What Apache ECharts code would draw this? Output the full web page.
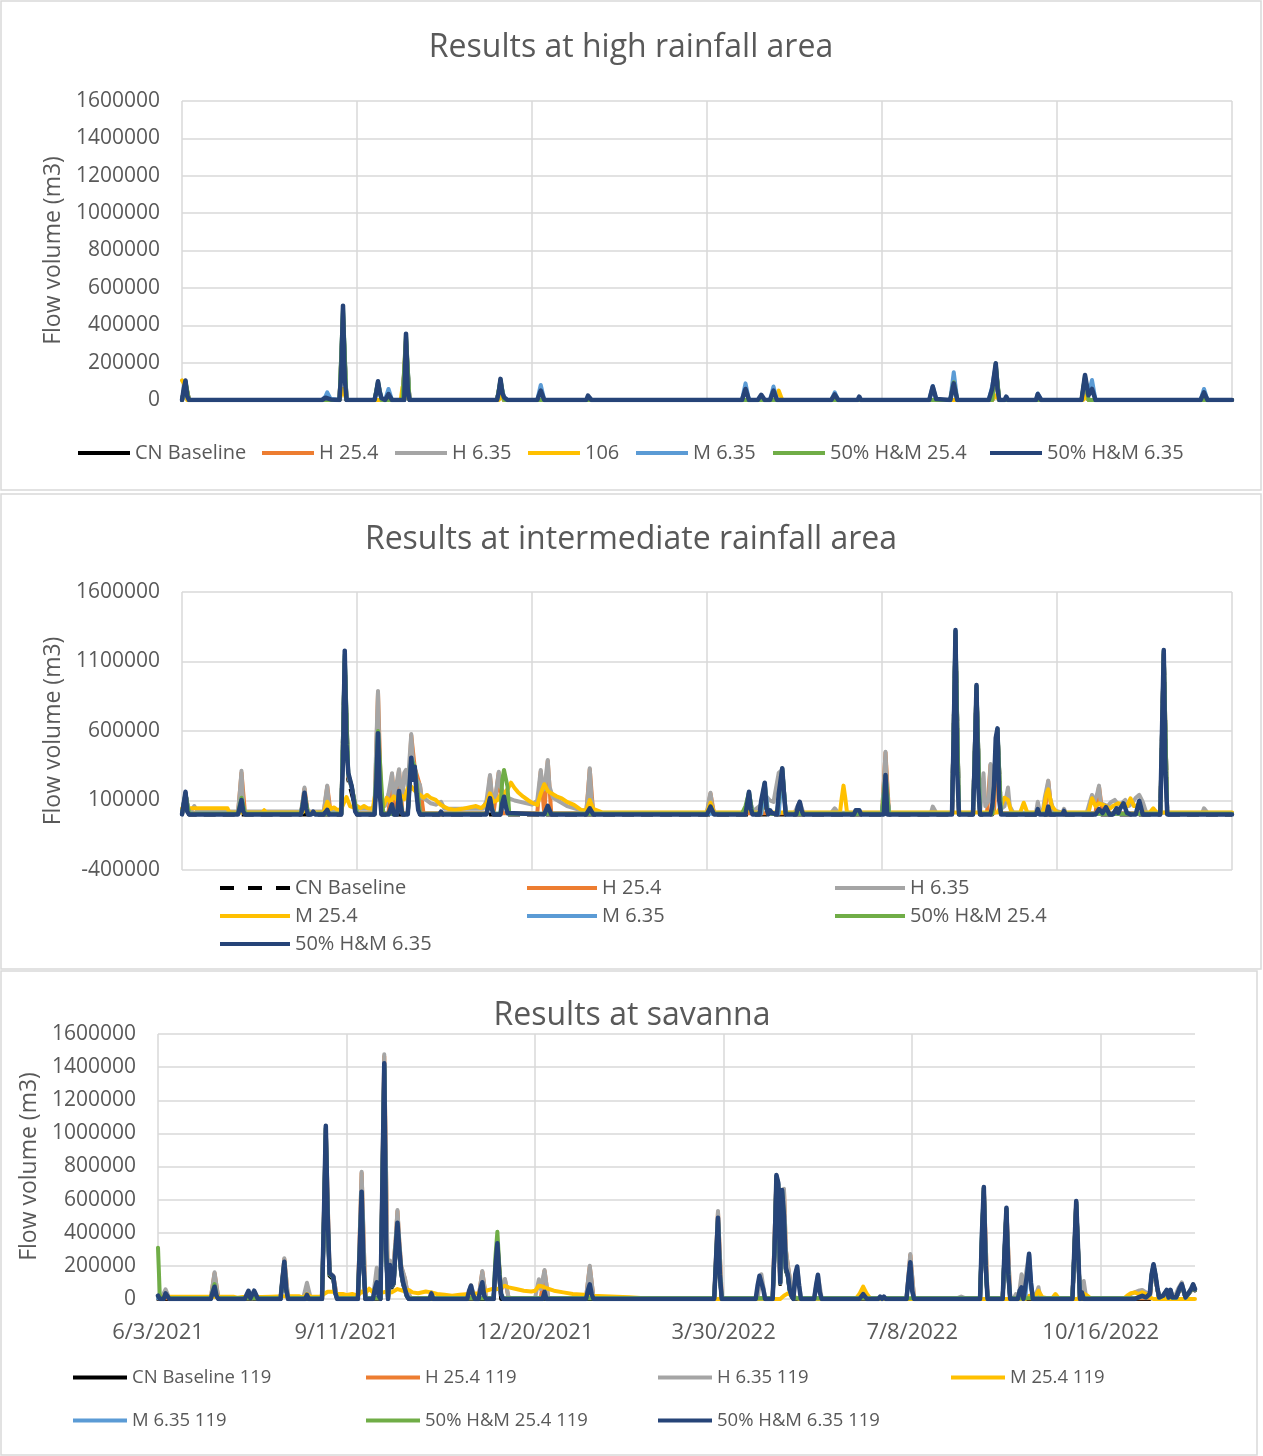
<!DOCTYPE html>
<html>
<head>
<meta charset="utf-8">
<title>Flow volume results</title>
<script src="https://cdn.jsdelivr.net/npm/echarts@6/dist/echarts.min.js"></script>
<style>
  html, body { margin: 0; padding: 0; background: #ffffff; }
  #wrap { position: relative; width: 1263px; height: 1456px; }
  .panel { position: absolute; left: 0; width: 1263px; }
</style>
</head>
<body>
<div id="wrap">
  <div id="p1" class="panel" style="top:0px;height:492px"></div>
  <div id="p2" class="panel" style="top:492px;height:478px"></div>
  <div id="p3" class="panel" style="top:970px;height:486px"></div>
</div>
<script>
// ---- Series names and colours -------------------------------------------
const highNames = ['CN Baseline', 'H 25.4', 'H 6.35', '106', 'M 6.35', '50% H&M 25.4', '50% H&M 6.35'];
const midNames = ['CN Baseline', 'H 25.4', 'H 6.35', 'M 25.4', 'M 6.35', '50% H&M 25.4', '50% H&M 6.35'];
const savNames = ['CN Baseline 119', 'H 25.4 119', 'H 6.35 119', 'M 25.4 119', 'M 6.35 119', '50% H&M 25.4 119', '50% H&M 6.35 119'];
const seriesColors = ['#000000', '#ED7D31', '#A5A5A5', '#FFC000', '#5B9BD5', '#70AD47', '#264478'];

// ---- Titles and tick labels ---------------------------------------------
const panelTitles = ['Results at high rainfall area', 'Results at intermediate rainfall area', 'Results at savanna'];
const axisTitle = 'Flow volume (m3)';
const savDateTicks = ['6/3/2021', '9/11/2021', '12/20/2021', '3/30/2022', '7/8/2022', '10/16/2022'];

// ---- High rainfall area: [day, flow volume m3] ---------------------------
const highCn = [[0,0],[2,85000],[4,0],[90,0],[92,430000],[94,0],[126,0],[128,300000],[130,0],[180,0],[182,90000],[184,0],[463,0],[465,160000],[467,0],[514,0],[516,100000],[518,0],[600,0]];
const highH254 = [[0,0],[2,90000],[4,0],[90,0],[92,450000],[94,0],[126,0],[128,320000],[130,0],[180,0],[182,95000],[184,0],[463,0],[465,170000],[467,0],[514,0],[516,110000],[518,0],[600,0]];
const highH635 = [[0,0],[2,95000],[4,0],[90,0],[92,470000],[94,0],[110,0],[112,90000],[114,0],[126,0],[128,330000],[130,0],[180,0],[182,100000],[184,0],[439,0],[441,80000],[443,0],[463,0],[465,180000],[467,0],[514,0],[516,120000],[518,0],[600,0]];
const high106 = [[0,105000],[1,90000],[3,0],[90,0],[92,60000],[94,0],[125,0],[126,70000],[127,40000],[128,20000],[130,0],[181,0],[182,25000],[184,0],[339,0],[341,50000],[343,0],[463,0],[465,25000],[467,0],[515,0],[516,20000],[518,0],[600,0]];
const highM635 = [[0,0],[1,50000],[2,95000],[3,15000],[4,0],[80,0],[82,20000],[83,41000],[85,5000],[90,0],[92,480000],[94,0],[110,0],[112,95000],[114,10000],[116,0],[118,59000],[120,0],[127,0],[128,340000],[130,0],[180,0],[182,105000],[184,10000],[186,0],[203,0],[205,80000],[207,0],[320,0],[322,89000],[324,0],[336,0],[338,72000],[340,0],[371,0],[373,41000],[375,0],[427,0],[429,75000],[431,0],[439,0],[441,149000],[443,0],[461,0],[463,75000],[465,185000],[467,0],[488,0],[489,35000],[491,0],[514,0],[516,120000],[518,30000],[520,107000],[522,0],[582,0],[584,59000],[586,0],[600,0]];
const highHm254 = [[0,0],[2,100000],[4,0],[90,0],[92,495000],[94,0],[110,0],[112,98000],[114,0],[126,0],[128,350000],[130,0],[180,0],[182,110000],[184,0],[439,0],[441,95000],[443,0],[463,0],[465,195000],[467,0],[514,0],[516,130000],[518,0],[600,0]];
const highHm635 = [[0,0],[1,60000],[2,104000],[3,20000],[4,0],[32,0],[33,8000],[34,0],[80,0],[82,12000],[83,18000],[85,3000],[90,0],[91,150000],[92,505000],[93,120000],[94,0],[100,0],[101,5000],[102,0],[110,0],[111,40000],[112,100000],[113,40000],[114,10000],[116,0],[117,15000],[118,32000],[120,0],[127,0],[128,355000],[129,60000],[130,0],[180,0],[181,40000],[182,113000],[183,40000],[184,15000],[186,0],[203,0],[205,50000],[207,0],[231,0],[232,23000],[234,0],[320,0],[322,59000],[324,0],[329,0],[331,28000],[333,0],[336,0],[338,50000],[340,0],[371,0],[373,30000],[375,0],[386,0],[387,18000],[388,0],[427,0],[429,72000],[431,5000],[432,0],[439,0],[441,89000],[443,0],[452,0],[453,8000],[454,0],[461,0],[463,60000],[465,197000],[466,60000],[467,0],[470,0],[471,18000],[472,0],[488,0],[489,32000],[491,0],[514,0],[516,134000],[518,25000],[520,59000],[522,0],[582,0],[584,41000],[586,0],[600,0]];

// ---- Intermediate rainfall area: [day, flow volume m3] -------------------
const midCn = [[0,0],[2,150000],[4,0],[91,0],[93,1100000],[95,250000],[97,150000],[100,0],[110,0],[112,550000],[114,0],[129,0],[131,380000],[133,300000],[136,0],[400,0],[402,260000],[404,0],[440,0],[442,1280000],[444,0],[452,0],[454,900000],[456,0],[463,0],[466,590000],[468,0],[559,0],[561,1150000],[563,0],[600,0]];
const midH254 = [[0,8000],[2,145000],[4,8000],[32,8000],[34,300000],[36,8000],[68,8000],[70,185000],[72,8000],[81,8000],[83,200000],[85,8000],[91,8000],[93,1100000],[95,270000],[97,190000],[100,8000],[110,8000],[112,880000],[114,8000],[118,8000],[120,290000],[122,8000],[124,318000],[126,8000],[129,8000],[131,570000],[133,335000],[136,205000],[138,8000],[174,8000],[176,275000],[178,8000],[181,300000],[183,8000],[203,8000],[205,310000],[207,8000],[209,385000],[211,8000],[231,8000],[233,325000],[235,8000],[300,8000],[302,150000],[304,8000],[400,8000],[402,445000],[404,8000],[440,8000],[442,1290000],[444,8000],[452,8000],[454,905000],[456,8000],[460,8000],[462,355000],[464,8000],[466,595000],[468,8000],[493,8000],[495,238000],[497,8000],[522,8000],[524,200000],[526,8000],[559,8000],[561,1160000],[563,8000],[600,8000]];
const midH635 = [[0,12000],[1,80000],[2,150000],[3,30000],[5,20000],[7,60000],[9,20000],[32,20000],[33,150000],[34,314000],[35,60000],[36,20000],[68,20000],[69,100000],[70,193000],[71,40000],[72,20000],[81,20000],[82,120000],[83,207000],[84,60000],[85,20000],[91,20000],[93,1120000],[95,280000],[97,200000],[99,40000],[101,40000],[110,40000],[111,500000],[112,888000],[113,300000],[114,60000],[116,60000],[118,150000],[120,296000],[121,120000],[122,180000],[124,325000],[125,150000],[126,120000],[127,300000],[128,320000],[129,200000],[130,400000],[131,578000],[132,380000],[133,343000],[134,250000],[136,211000],[137,120000],[139,110000],[142,80000],[145,70000],[148,91000],[150,40000],[172,40000],[174,100000],[176,283000],[177,150000],[179,120000],[181,307000],[182,200000],[184,150000],[186,120000],[190,100000],[200,70000],[203,100000],[205,320000],[206,200000],[207,180000],[209,392000],[210,200000],[212,120000],[220,60000],[228,30000],[231,30000],[232,150000],[233,332000],[234,120000],[235,30000],[240,12000],[300,12000],[301,100000],[302,156000],[303,60000],[304,12000],[320,12000],[322,40000],[324,150000],[326,20000],[330,60000],[332,80000],[334,128000],[336,100000],[338,90000],[341,300000],[343,320000],[345,12000],[350,12000],[353,90000],[355,12000],[371,12000],[373,44000],[375,12000],[400,12000],[401,200000],[402,451000],[403,150000],[404,12000],[428,12000],[429,56000],[431,12000],[440,12000],[442,1300000],[444,12000],[452,12000],[454,910000],[456,12000],[457,12000],[458,296000],[459,60000],[461,100000],[462,362000],[463,150000],[464,300000],[466,600000],[467,120000],[468,40000],[470,60000],[472,193000],[473,60000],[475,12000],[488,12000],[489,91000],[490,30000],[492,30000],[493,120000],[495,243000],[496,120000],[498,30000],[503,12000],[504,40000],[505,12000],[517,12000],[519,100000],[520,140000],[521,80000],[523,150000],[524,207000],[525,80000],[527,70000],[529,60000],[531,90000],[533,104000],[535,70000],[537,80000],[539,104000],[541,60000],[543,80000],[545,120000],[547,140000],[549,90000],[551,12000],[583,12000],[584,44000],[586,12000],[600,12000]];
const midM254 = [[0,44000],[26,44000],[27,14000],[32,14000],[33,28000],[35,14000],[46,14000],[47,30000],[48,14000],[69,14000],[70,40000],[72,14000],[81,14000],[83,91000],[85,40000],[87,50000],[89,30000],[91,40000],[94,125000],[96,60000],[98,50000],[100,60000],[102,45000],[104,60000],[106,45000],[109,40000],[111,190000],[113,150000],[115,60000],[117,120000],[119,90000],[121,130000],[123,100000],[125,140000],[127,110000],[129,190000],[131,200000],[133,170000],[136,140000],[138,120000],[140,140000],[142,120000],[145,104000],[148,68000],[152,40000],[156,32000],[160,40000],[164,50000],[168,60000],[171,45000],[174,80000],[176,152000],[178,90000],[180,100000],[182,140000],[184,150000],[186,180000],[188,228000],[190,190000],[192,160000],[195,127000],[198,100000],[200,84000],[203,68000],[205,150000],[207,217000],[209,170000],[211,152000],[214,130000],[217,116000],[220,90000],[224,68000],[228,32000],[231,30000],[233,104000],[235,40000],[240,14000],[300,14000],[302,84000],[304,14000],[322,14000],[324,40000],[326,14000],[331,14000],[333,80000],[335,14000],[376,14000],[377,120000],[378,207000],[379,120000],[380,14000],[400,14000],[402,40000],[404,14000],[466,14000],[468,60000],[470,120000],[472,104000],[474,14000],[479,14000],[481,84000],[483,14000],[492,14000],[494,150000],[495,180000],[497,60000],[500,14000],[518,14000],[520,116000],[522,60000],[524,80000],[526,70000],[528,60000],[530,40000],[532,60000],[535,80000],[538,70000],[540,60000],[542,116000],[544,60000],[547,70000],[549,14000],[553,14000],[555,44000],[557,14000],[600,14000]];
const midM635 = [[0,5000],[2,155000],[4,5000],[32,5000],[34,110000],[36,5000],[68,5000],[70,150000],[72,5000],[91,5000],[93,1140000],[95,280000],[97,190000],[100,5000],[110,5000],[112,590000],[114,5000],[123,5000],[124,165000],[126,5000],[129,5000],[131,400000],[133,335000],[136,5000],[174,5000],[176,112000],[178,5000],[182,5000],[184,125000],[186,5000],[322,5000],[324,160000],[326,5000],[331,5000],[333,222000],[335,5000],[341,5000],[343,328000],[345,5000],[400,5000],[402,278000],[404,5000],[440,5000],[442,1315000],[444,5000],[452,5000],[454,920000],[456,5000],[463,5000],[466,610000],[468,5000],[559,5000],[561,1170000],[563,5000],[600,5000]];
const midHm254 = [[0,5000],[2,150000],[4,5000],[32,5000],[34,120000],[36,5000],[68,5000],[70,150000],[72,5000],[91,5000],[93,1150000],[95,290000],[97,200000],[100,5000],[110,5000],[112,600000],[113,400000],[114,200000],[115,5000],[123,5000],[124,160000],[126,5000],[129,5000],[131,400000],[133,340000],[136,5000],[174,5000],[176,110000],[178,5000],[182,5000],[183,250000],[184,320000],[186,200000],[187,5000],[300,5000],[302,50000],[304,5000],[320,5000],[322,60000],[324,160000],[326,5000],[330,5000],[333,225000],[334,60000],[335,5000],[340,5000],[343,330000],[345,5000],[400,5000],[402,280000],[404,5000],[440,5000],[442,1320000],[444,5000],[452,5000],[454,925000],[456,5000],[463,5000],[466,615000],[468,5000],[559,5000],[561,1175000],[563,5000],[600,5000]];
const midHm635 = [[0,0],[1,80000],[2,163000],[3,20000],[4,0],[6,0],[7,10000],[8,0],[32,0],[33,50000],[34,104000],[35,20000],[36,0],[68,0],[69,60000],[70,156000],[71,40000],[72,0],[74,0],[75,20000],[76,0],[81,0],[83,33000],[84,0],[91,0],[92,400000],[93,1178000],[94,500000],[95,300000],[96,290000],[97,200000],[99,20000],[100,0],[110,0],[111,200000],[112,583000],[113,150000],[114,0],[118,0],[120,73000],[121,0],[123,0],[124,168000],[125,60000],[126,0],[129,0],[130,200000],[131,408000],[132,250000],[133,343000],[134,150000],[135,30000],[136,0],[147,0],[148,20000],[149,0],[174,0],[175,60000],[176,117000],[177,40000],[178,0],[182,0],[183,80000],[184,127000],[185,60000],[186,10000],[187,0],[207,0],[209,61000],[211,0],[231,0],[233,44000],[235,0],[300,0],[302,56000],[304,0],[322,0],[323,80000],[324,163000],[325,40000],[326,0],[330,0],[331,100000],[333,228000],[334,40000],[335,0],[336,30000],[337,10000],[340,0],[341,150000],[343,332000],[344,150000],[345,0],[351,0],[352,60000],[353,91000],[354,30000],[355,0],[384,0],[385,30000],[386,32000],[387,30000],[388,0],[401,0],[402,283000],[403,0],[440,0],[441,600000],[442,1327000],[443,300000],[444,0],[452,0],[453,400000],[454,931000],[455,200000],[456,0],[462,0],[463,60000],[464,200000],[465,550000],[466,619000],[467,100000],[468,0],[488,0],[489,38000],[490,0],[494,0],[495,56000],[496,0],[503,0],[504,25000],[505,0],[522,0],[524,38000],[526,10000],[528,52000],[530,0],[532,0],[534,44000],[535,10000],[536,40000],[538,80000],[540,10000],[542,0],[545,0],[547,97000],[549,0],[559,0],[560,600000],[561,1183000],[562,300000],[563,0],[600,0]];

// ---- Savanna: [day since 6/3/2021, flow volume m3] ------------------------
const savCn = [[0,0],[28,0],[29,35000],[30,60000],[31,15000],[32,0],[65,0],[66,105000],[67,200000],[68,50000],[69,0],[87,0],[88,450000],[89,980000],[90,450000],[91,140000],[93,120000],[94,35000],[95,0],[106,0],[107,270000],[108,600000],[109,180000],[110,0],[118,0],[119,650000],[120,1380000],[121,280000],[122,0],[123,190000],[124,70000],[125,90000],[126,280000],[127,430000],[128,280000],[129,150000],[130,90000],[131,50000],[132,15000],[133,0],[178,0],[179,180000],[180,300000],[181,130000],[182,0],[295,0],[296,220000],[297,470000],[298,130000],[299,0],[326,0],[327,280000],[328,720000],[329,670000],[330,90000],[331,630000],[332,470000],[333,170000],[334,140000],[335,55000],[336,15000],[337,0],[436,0],[437,370000],[438,650000],[439,180000],[440,0],[448,0],[449,280000],[450,530000],[451,140000],[452,0],[485,0],[486,280000],[487,570000],[488,280000],[489,0],[526,0],[527,130000],[528,190000],[529,130000],[530,60000],[531,0],[533,15000],[535,48000],[536,5000],[537,48000],[538,5000],[540,5000],[542,60000],[543,80000],[544,42000],[545,5000],[546,0],[548,52000],[549,80000],[550,52000]];
const savH254 = [[0,5000],[28,5000],[30,155000],[32,5000],[65,5000],[67,240000],[69,5000],[87,5000],[89,1020000],[91,155000],[93,135000],[95,5000],[106,5000],[108,760000],[110,5000],[118,5000],[120,1465000],[122,5000],[123,225000],[124,95000],[126,340000],[127,530000],[128,340000],[129,195000],[131,120000],[132,55000],[134,5000],[170,5000],[172,165000],[174,5000],[178,5000],[180,325000],[182,55000],[184,115000],[186,5000],[203,5000],[205,170000],[207,5000],[227,5000],[229,195000],[231,5000],[295,5000],[297,525000],[299,5000],[326,5000],[328,735000],[330,95000],[332,660000],[333,295000],[334,205000],[336,55000],[337,5000],[397,5000],[399,265000],[401,5000],[436,5000],[438,668000],[440,5000],[448,5000],[450,542000],[452,5000],[485,5000],[487,582000],[489,5000],[526,5000],[527,140000],[528,200000],[529,140000],[530,62000],[531,5000],[533,16000],[535,50000],[536,8000],[537,50000],[538,8000],[540,8000],[542,64000],[543,95000],[544,45000],[545,8000],[546,5000],[548,55000],[549,86000],[550,55000]];
const savH635 = [[0,5000],[2,10000],[4,58000],[6,5000],[28,5000],[30,161000],[32,5000],[46,5000],[48,45000],[50,5000],[51,45000],[53,5000],[65,5000],[67,246000],[69,5000],[77,5000],[79,98000],[81,5000],[87,5000],[89,1030000],[91,160000],[93,140000],[95,5000],[106,5000],[108,769000],[110,5000],[114,5000],[116,189000],[118,5000],[120,1477000],[122,5000],[123,233000],[124,100000],[126,350000],[127,537000],[128,350000],[129,200000],[131,125000],[132,60000],[134,5000],[144,5000],[145,40000],[146,5000],[164,5000],[166,85000],[168,5000],[170,5000],[172,169000],[174,5000],[178,5000],[180,330000],[182,60000],[184,121000],[186,5000],[200,5000],[202,119000],[203,60000],[205,175000],[207,5000],[227,5000],[229,201000],[231,5000],[295,5000],[297,531000],[299,5000],[318,5000],[320,150000],[322,5000],[326,5000],[328,740000],[330,100000],[332,665000],[333,300000],[334,210000],[336,60000],[337,5000],[339,190000],[341,5000],[348,5000],[350,145000],[352,5000],[371,5000],[372,20000],[374,45000],[376,5000],[397,5000],[399,271000],[401,5000],[424,5000],[426,15000],[428,5000],[436,5000],[438,670000],[440,5000],[448,5000],[450,545000],[452,5000],[454,5000],[455,30000],[456,5000],[457,60000],[458,150000],[459,60000],[461,200000],[462,270000],[463,60000],[465,5000],[466,40000],[467,71000],[468,5000],[485,5000],[487,585000],[489,5000],[490,60000],[491,109000],[492,30000],[493,5000],[514,5000],[516,30000],[518,40000],[520,50000],[522,55000],[524,40000],[526,30000],[528,205000],[530,60000],[532,5000],[535,50000],[537,50000],[539,5000],[541,60000],[543,100000],[545,5000],[549,90000],[550,60000]];
const savM254 = [[0,14000],[40,14000],[42,8000],[45,12000],[55,12000],[60,14000],[67,16000],[75,16000],[77,8000],[79,30000],[81,14000],[86,14000],[88,30000],[90,44000],[93,44000],[95,30000],[98,30000],[100,25000],[103,30000],[106,20000],[108,45000],[110,35000],[112,62000],[114,40000],[116,55000],[118,35000],[121,45000],[124,40000],[127,60000],[130,50000],[133,55000],[135,40000],[138,35000],[142,45000],[145,40000],[148,30000],[152,25000],[156,20000],[160,25000],[165,30000],[170,35000],[174,50000],[177,60000],[180,60000],[182,70000],[184,80000],[186,70000],[190,60000],[194,50000],[198,45000],[200,50000],[202,80000],[204,75000],[206,65000],[210,50000],[215,40000],[220,30000],[226,25000],[230,20000],[240,15000],[250,10000],[260,3000],[270,0],[330,0],[332,20000],[334,34000],[336,25000],[338,10000],[340,0],[370,0],[372,30000],[374,75000],[376,30000],[378,0],[460,0],[462,20000],[465,10000],[467,50000],[469,10000],[474,0],[476,30000],[478,0],[488,0],[490,40000],[491,50000],[493,20000],[495,0],[512,0],[514,20000],[516,35000],[518,40000],[520,30000],[522,40000],[524,30000],[526,10000],[528,0],[550,0]];
const savM635 = [[0,5000],[3,5000],[4,30000],[6,5000],[28,5000],[29,38000],[30,70000],[31,18000],[32,5000],[65,5000],[66,115000],[67,220000],[68,55000],[69,5000],[87,5000],[88,480000],[89,1035000],[90,480000],[91,150000],[93,130000],[94,38000],[95,5000],[106,5000],[107,290000],[108,640000],[109,190000],[110,5000],[118,5000],[119,680000],[120,1415000],[121,290000],[122,5000],[123,198000],[124,76000],[125,96000],[126,290000],[127,455000],[128,290000],[129,158000],[130,96000],[131,56000],[132,18000],[133,5000],[178,5000],[179,195000],[180,330000],[181,145000],[182,28000],[183,5000],[295,5000],[296,240000],[297,485000],[298,145000],[299,5000],[326,5000],[327,290000],[328,742000],[329,690000],[330,96000],[331,650000],[332,490000],[333,180000],[334,145000],[335,56000],[336,18000],[337,5000],[397,5000],[398,115000],[399,218000],[400,48000],[401,5000],[436,5000],[437,390000],[438,670000],[439,195000],[440,5000],[448,5000],[449,290000],[450,546000],[451,145000],[452,5000],[460,5000],[461,145000],[462,268000],[463,96000],[464,5000],[485,5000],[486,290000],[487,586000],[488,290000],[489,5000],[518,5000],[520,8000],[522,16000],[524,8000],[526,26000],[527,145000],[528,205000],[529,145000],[530,66000],[531,8000],[532,5000],[533,18000],[535,52000],[536,8000],[537,52000],[538,8000],[540,8000],[542,66000],[543,85000],[544,48000],[545,8000],[546,5000],[548,56000],[549,85000],[550,56000]];
const savHm254 = [[0,310000],[1,5000],[3,5000],[4,30000],[6,5000],[28,5000],[29,45000],[30,90000],[31,20000],[32,5000],[65,5000],[66,115000],[67,220000],[68,55000],[69,5000],[87,5000],[88,490000],[89,1030000],[90,490000],[91,150000],[93,130000],[94,40000],[95,5000],[106,5000],[107,295000],[108,640000],[109,195000],[110,5000],[118,5000],[119,690000],[120,1410000],[121,295000],[122,5000],[123,200000],[124,78000],[125,98000],[126,295000],[127,455000],[128,295000],[129,160000],[130,98000],[131,58000],[132,18000],[133,5000],[178,5000],[179,260000],[180,406000],[181,200000],[182,30000],[183,5000],[295,5000],[296,245000],[297,485000],[298,145000],[299,5000],[326,5000],[327,295000],[328,740000],[329,690000],[330,98000],[331,650000],[332,495000],[333,180000],[334,145000],[335,58000],[336,18000],[337,5000],[436,5000],[437,395000],[438,670000],[439,195000],[440,5000],[448,5000],[449,295000],[450,545000],[451,145000],[452,5000],[485,5000],[486,295000],[487,585000],[488,295000],[489,5000],[518,5000],[520,8000],[522,18000],[524,8000],[526,28000],[527,145000],[528,205000],[529,145000],[530,66000],[531,8000],[532,5000],[533,18000],[535,52000],[536,8000],[537,52000],[538,8000],[540,8000],[542,66000],[543,85000],[544,48000],[545,8000],[546,5000],[548,56000],[549,85000],[550,56000]];
const savHm635 = [[0,20000],[1,0],[3,0],[4,34000],[6,0],[28,0],[29,40000],[30,74000],[31,20000],[32,0],[46,0],[48,50000],[49,5000],[50,5000],[51,50000],[53,0],[65,0],[66,120000],[67,225000],[68,60000],[69,0],[78,0],[79,25000],[80,0],[87,0],[88,500000],[89,1046000],[90,500000],[91,155000],[93,135000],[94,40000],[95,0],[106,0],[107,300000],[108,648000],[109,200000],[110,0],[114,0],[115,60000],[116,101000],[117,20000],[118,0],[119,700000],[120,1423000],[121,300000],[122,0],[123,205000],[124,80000],[125,100000],[126,300000],[127,461000],[128,300000],[129,165000],[130,100000],[131,60000],[132,20000],[133,0],[144,0],[145,34000],[146,0],[164,0],[165,50000],[166,80000],[167,30000],[168,0],[170,0],[171,60000],[172,101000],[173,20000],[174,0],[178,0],[179,200000],[180,336000],[181,150000],[182,30000],[183,0],[204,0],[205,44000],[206,0],[227,0],[228,50000],[229,88000],[230,30000],[231,0],[295,0],[296,250000],[297,490000],[298,150000],[299,0],[317,0],[318,80000],[319,140000],[320,152000],[321,60000],[322,0],[326,0],[327,300000],[328,749000],[329,700000],[330,100000],[331,658000],[332,500000],[333,186000],[334,150000],[335,60000],[336,20000],[337,0],[338,150000],[339,196000],[340,80000],[341,0],[348,0],[349,80000],[350,146000],[351,40000],[352,0],[372,0],[374,30000],[376,0],[382,0],[383,15000],[384,0],[385,15000],[386,0],[397,0],[398,120000],[399,222000],[400,50000],[401,0],[436,0],[437,400000],[438,676000],[439,200000],[440,0],[448,0],[449,300000],[450,551000],[451,150000],[452,0],[456,0],[457,50000],[458,70000],[459,0],[460,0],[461,150000],[462,273000],[463,100000],[464,0],[485,0],[486,300000],[487,591000],[488,300000],[489,0],[490,40000],[491,0],[518,0],[520,10000],[522,20000],[524,10000],[526,30000],[527,150000],[528,210000],[529,150000],[530,70000],[531,10000],[532,0],[533,20000],[535,55000],[536,10000],[537,55000],[538,10000],[540,10000],[542,70000],[543,89000],[544,50000],[545,10000],[546,0],[548,60000],[549,89000],[550,60000]];

// ---- Drawing --------------------------------------------------------------
const FONT = "'Open Sans', 'Noto Sans', sans-serif";
const TEXT_COLOR = '#595959';
const GRID_COLOR = '#d9d9d9';
const KEY_THICK = 4;

// Legend key shaped as a bar of the given length, or three dashes of it.
function keyPath(len, dashed) {
  if (!dashed) return 'path://M0,0H' + len + 'V' + KEY_THICK + 'H0Z';
  const d = len / 5;
  let p = 'path://';
  for (let k = 0; k < 3; k++) {
    const x0 = k * 2 * d;
    p += 'M' + x0 + ',0H' + (x0 + d) + 'V' + KEY_THICK + 'H' + x0 + 'Z ';
  }
  return p.trim();
}

function lineSeries(name, data, color, isTop, dashed) {
  return {
    type: 'line', name: name, data: data,
    symbol: 'none', showSymbol: false, animation: false, silent: true,
    lineStyle: { color: color, width: isTop ? 4.5 : 4, type: dashed ? [12, 7] : 'solid',
                 cap: dashed ? 'butt' : 'round', join: 'round' },
    itemStyle: { color: color },
    emphasis: { disabled: true }
  };
}

function legendItem(name, left, cy, width, fontSize, lift, dashed) {
  return {
    data: [{ name: name, icon: keyPath(width, dashed) }],
    left: left, top: cy - KEY_THICK / 2 - lift, itemWidth: width, itemHeight: KEY_THICK,
    padding: 0, itemGap: 0, selectedMode: false,
    textStyle: { color: TEXT_COLOR, fontSize: fontSize, fontFamily: FONT }
  };
}

function buildPanel(cfg) {
  const chart = echarts.init(document.getElementById(cfg.id), null, { renderer: 'canvas' });
  const series = cfg.names.map(function (n, i) {
    return lineSeries(n, cfg.data[i], seriesColors[i], i === 6, cfg.dashedFirst && i === 0);
  });
  const legends = cfg.names.map(function (n, i) {
    return legendItem(n, cfg.legendPos[i][0], cfg.legendPos[i][1], cfg.legendWidth, cfg.legendFont,
                      cfg.legendLift, cfg.dashedFirst && i === 0);
  });
  chart.setOption({
    animation: false,
    backgroundColor: '#ffffff',
    textStyle: { fontFamily: FONT },
    graphic: [
      { type: 'rect', shape: cfg.border, style: { fill: 'none', stroke: GRID_COLOR, lineWidth: 1.5 }, silent: true },
      { type: 'text', x: cfg.titleX, y: cfg.titleY, silent: true,
        style: { text: cfg.title, fill: TEXT_COLOR, font: '32px ' + FONT, align: 'center', verticalAlign: 'middle' } }
    ],
    grid: { left: cfg.grid[0], top: cfg.grid[1], width: cfg.grid[2], height: cfg.grid[3], containLabel: false },
    xAxis: {
      type: 'value', min: 0, max: cfg.xMax, interval: 100,
      axisLine: { show: false }, axisTick: { show: false },
      splitLine: { show: true, showMaxLine: cfg.showRightLine, lineStyle: { color: GRID_COLOR, width: 1.5 } },
      axisLabel: cfg.xLabels ? {
        show: true, color: TEXT_COLOR, fontSize: 22, fontFamily: FONT, margin: 23,
        showMaxLabel: false,
        formatter: function (v) { return (v % 100 === 0) ? (cfg.xLabels[v / 100] || '') : ''; }
      } : { show: false }
    },
    yAxis: {
      type: 'value', min: cfg.yMin, max: cfg.yMax, interval: cfg.yStep,
      axisLine: { show: false }, axisTick: { show: false },
      splitLine: { show: true, lineStyle: { color: GRID_COLOR, width: 1.5 } },
      axisLabel: { color: TEXT_COLOR, fontSize: 21, fontFamily: FONT, margin: 22,
                   formatter: function (v) { return String(v); } },
      name: axisTitle, nameLocation: 'middle', nameGap: cfg.nameGap, nameRotate: 90,
      nameTextStyle: { color: TEXT_COLOR, fontSize: 23, fontFamily: FONT }
    },
    legend: legends,
    series: series
  });
}

buildPanel({
  id: 'p1', title: panelTitles[0], titleX: 631, titleY: 48,
  border: { x: 1, y: 1, width: 1260, height: 489 },
  grid: [182, 101, 1050, 299], xMax: 600, showRightLine: true, xLabels: null,
  yMin: 0, yMax: 1600000, yStep: 200000, nameGap: 108,
  names: highNames,
  data: [highCn, highH254, highH635, high106, highM635, highHm254, highHm635],
  legendPos: [[78,452],[262,452],[395,452],[528,452],[636,452],[773,452],[990,452]],
  legendWidth: 52, legendFont: 20, legendLift: 7
});

buildPanel({
  id: 'p2', title: panelTitles[1], titleX: 631, titleY: 48, dashedFirst: true,
  border: { x: 1, y: 2, width: 1260, height: 475 },
  grid: [182, 100, 1050, 278], xMax: 600, showRightLine: true, xLabels: null,
  yMin: -400000, yMax: 1600000, yStep: 500000, nameGap: 108,
  names: midNames,
  data: [midCn, midH254, midH635, midM254, midM635, midHm254, midHm635],
  legendPos: [[220,395],[527,395],[835,395],[220,423],[527,423],[835,423],[220,451]],
  legendWidth: 70, legendFont: 20, legendLift: 7
});

buildPanel({
  id: 'p3', title: panelTitles[2], titleX: 632, titleY: 46,
  border: { x: 1, y: 1, width: 1256, height: 484 },
  grid: [158, 64, 1037, 265], xMax: 550, showRightLine: false, xLabels: savDateTicks,
  yMin: 0, yMax: 1600000, yStep: 200000, nameGap: 106,
  names: savNames,
  data: [savCn, savH254, savH635, savM254, savM635, savHm254, savHm635],
  legendPos: [[73,406],[366,406],[658,406],[951,406],[73,449],[366,449],[658,449]],
  legendWidth: 54, legendFont: 18.5, legendLift: 6
});
</script>
</body>
</html>
